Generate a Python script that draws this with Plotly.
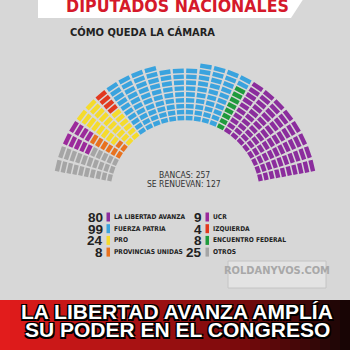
import numpy as np
import plotly.graph_objects as go

# ---------------- data ----------------
parties = ["LA LIBERTAD AVANZA", "FUERZA PATRIA", "PRO", "PROVINCIAS UNIDAS",
           "UCR", "IZQUIERDA", "ENCUENTRO FEDERAL", "OTROS"]
seats = [80, 99, 24, 8, 9, 4, 8, 25]
colors = ["#8B2D9D", "#3AA3DE", "#F5DB2C", "#E8721F",
          "#9B2A9B", "#E2381F", "#1F9A3C", "#A5A5A5"]
arc_order = ["OTROS", "UCR", "PROVINCIAS UNIDAS", "PRO", "IZQUIERDA",
             "FUERZA PATRIA", "ENCUENTRO FEDERAL", "LA LIBERTAD AVANZA"]
legend_left = ["LA LIBERTAD AVANZA", "FUERZA PATRIA", "PRO", "PROVINCIAS UNIDAS"]
legend_right = ["UCR", "IZQUIERDA", "ENCUENTRO FEDERAL", "OTROS"]
title = "DIPUTADOS NACIONALES"
subtitle = "CÓMO QUEDA LA CÁMARA"
info_lines = ["BANCAS: 257", "SE RENUEVAN: 127"]
headline = ["LA LIBERTAD AVANZA AMPLÍA", "SU PODER EN EL CONGRESO"]
brand = "ROLDANYVOS.COM"

BG = "#D7D7D7"
COND = "DejaVu Sans Condensed, sans-serif"
SANS = "Liberation Sans, Arial, sans-serif"

fig = go.Figure()
shapes = []
annotations = []

# ---------------- header ----------------
shapes.append(dict(type="path", path="M 38,-2 L 304,-2 L 291,18 L 38,18 Z",
                   fillcolor="white", line=dict(width=0), layer="below"))
annotations.append(dict(x=177, y=6, text=title, showarrow=False,
                        font=dict(family=COND, size=17.6, color="#D5192B", weight="bold"),
                        xanchor="center", yanchor="middle"))
annotations.append(dict(x=68, y=32, text=subtitle, showarrow=False,
                        font=dict(family=COND, size=11, color="#222222", weight="bold"),
                        xanchor="left", yanchor="middle"))

# ---------------- hemicycle ----------------
cx, cy = 185, 195
n_spokes = 26
rows = 10
r_in, r_step = 77, 5.9
a_start, a_end = 167.0, 13.0
d_ang = (a_start - a_end) / (n_spokes - 1)
total = sum(seats)
counts = [rows] * n_spokes
extra = rows * n_spokes - total
for k in range(extra):
    counts[12 + k - extra // 2] -= 1

seat_pos = []
for i in range(n_spokes):
    th = a_start - i * d_ang
    js = list(range(counts[i]))
    if i % 2 == 1:
        js = js[::-1]          # snake fill: alternate inner->outer / outer->inner
    for j in js:
        seat_pos.append((th, r_in + j * r_step))

seat_map = dict(zip(parties, seats))
col_map = dict(zip(parties, colors))
half_t = 2.2                        # radial half thickness of a seat
w_frac = 0.41                       # tangential half width, fraction of spoke pitch
idx = 0
for p in arc_order:
    n = seat_map[p]
    pts = seat_pos[idx: idx + n]
    idx += n
    xs, ys = [], []
    for th, r in pts:
        a = np.radians(th)
        ur = np.array([np.cos(a), -np.sin(a)])      # radial unit (screen coords)
        ut = np.array([-np.sin(a), -np.cos(a)])     # tangential unit
        c = np.array([cx, cy]) + r * ur
        hw = r * np.radians(d_ang) * w_frac
        corners = [c - half_t * ur - hw * ut, c - half_t * ur + hw * ut,
                   c + half_t * ur + hw * ut, c + half_t * ur - hw * ut,
                   c - half_t * ur - hw * ut]
        for q in corners:
            xs.append(q[0]); ys.append(q[1])
        xs.append(None); ys.append(None)
    fig.add_trace(go.Scatter(
        x=xs, y=ys, mode="lines", fill="toself", fillcolor=col_map[p],
        line=dict(width=0, color=col_map[p]), name=p, showlegend=False, hoverinfo="skip"))

for k, t in enumerate(info_lines):
    annotations.append(dict(x=184, y=175 + k * 8.5, text=t, showarrow=False,
                            font=dict(family=COND, size=8.5, color="#333333"),
                            xanchor="center", yanchor="middle"))

# ---------------- legend ----------------
def legend_col(names, x_num, y0):
    for k, p in enumerate(names):
        y = y0 + k * 11.7
        annotations.append(dict(x=x_num + 0.5, y=y + 0.5, text=str(seat_map[p]), showarrow=False,
                                font=dict(family=SANS, size=13.5, color="#222222", weight="bold"),
                                xanchor="right", yanchor="middle"))
        shapes.append(dict(type="rect", x0=x_num + 2.5, x1=x_num + 6, y0=y - 4.5, y1=y + 4.5,
                           fillcolor=col_map[p], line=dict(width=0)))
        annotations.append(dict(x=x_num + 7.5, y=y, text=p, showarrow=False,
                                font=dict(family=COND, size=6.6, color="#222222", weight="bold"),
                                xanchor="left", yanchor="middle"))

legend_col(legend_left, 104, 217)
legend_col(legend_right, 203, 217)

# ---------------- watermark box ----------------
shapes.append(dict(type="rect", x0=228, x1=326, y0=261, y1=288,
                   fillcolor="#E3E3E3", line=dict(color="#C4C4C4", width=1)))
annotations.append(dict(x=277, y=270, text=brand, showarrow=False,
                        font=dict(family=COND, size=11, color="#A8A8A8", weight="bold"),
                        xanchor="center", yanchor="middle"))

# ---------------- scrolling strip ----------------
unit = 'ROLDÁNY<span style="color:#E3262B">VOS</span>.COM'
strip = 'Y<span style="color:#E3262B">VOS</span>.COM' + unit * 4
outline = "1px 1px 0 #000, -1px -1px 0 #000, 1px -1px 0 #000, -1px 1px 0 #000"
annotations.append(dict(x=-4, y=295, text=strip, showarrow=False,
                        font=dict(family=SANS, size=10.5, color="white",
                                  weight="bold", shadow=outline),
                        xanchor="left", yanchor="middle"))

# ---------------- red banner (gradient) ----------------
n_strip = 35
c0 = np.array([226, 28, 28])
c1 = np.array([120, 10, 12])
c2 = np.array([25, 6, 6])
for k in range(n_strip):
    t = k / (n_strip - 1)
    if t < 0.7:
        c = c0 + (c1 - c0) * (t / 0.7)
    else:
        c = c1 + (c2 - c1) * ((t - 0.7) / 0.3)
    shapes.append(dict(type="rect", x0=k * 10, x1=k * 10 + 10.5, y0=300, y1=352,
                       fillcolor="rgb(%d,%d,%d)" % tuple(c.astype(int)), line=dict(width=0),
                       layer="below"))
for k, t in enumerate(headline):
    annotations.append(dict(x=177, y=311 + k * 18, text=t, showarrow=False,
                            font=dict(family=SANS, size=21, color="white",
                                      weight="bold",
                                      shadow="1.5px 1.5px 0 #000, -1.5px -1.5px 0 #000, 1.5px -1.5px 0 #000, -1.5px 1.5px 0 #000"),
                            xanchor="center", yanchor="middle"))

fig.update_layout(
    width=350, height=350, autosize=False,
    margin=dict(l=0, r=0, t=0, b=0),
    paper_bgcolor=BG, plot_bgcolor=BG,
    xaxis=dict(range=[0, 350], visible=False, fixedrange=True),
    yaxis=dict(range=[350, 0], visible=False, fixedrange=True),
    shapes=shapes, annotations=annotations, showlegend=False,
)
fig.write_html("out.html")
